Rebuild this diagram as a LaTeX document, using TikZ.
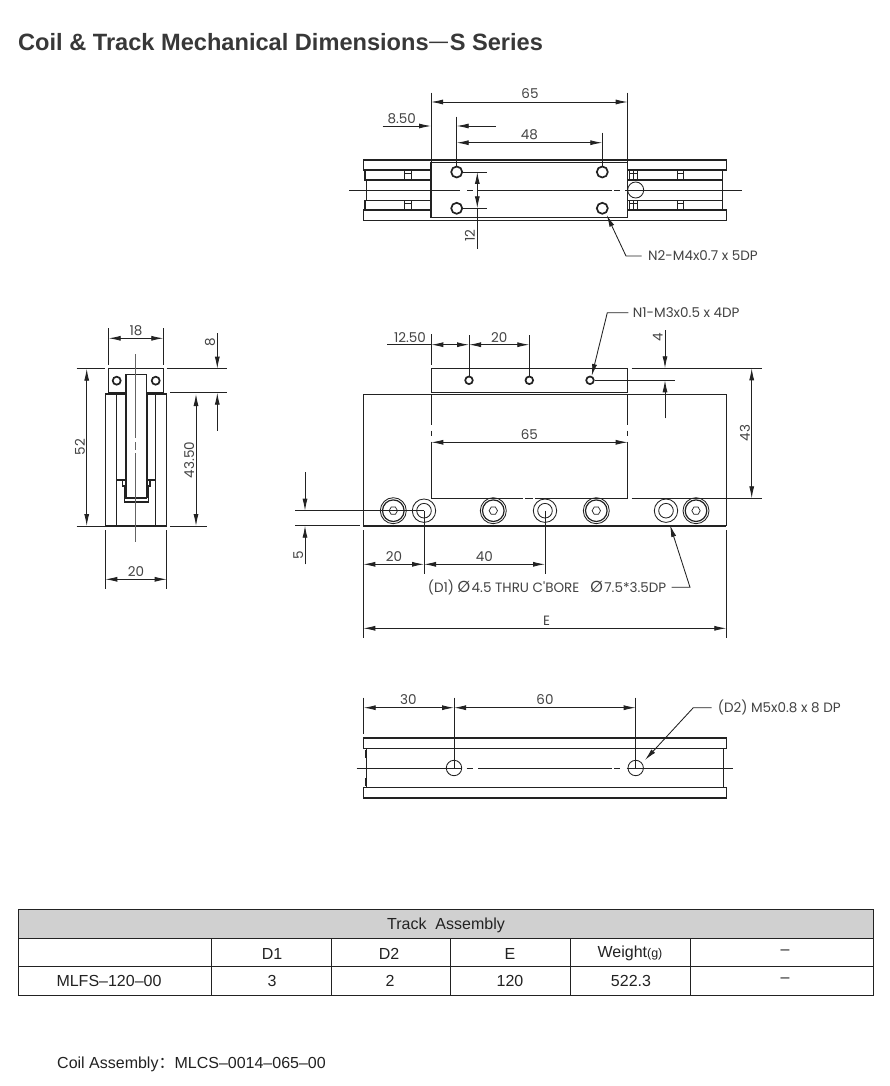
\documentclass[tikz,border=0pt]{standalone}
\usepackage{fontspec}
\usetikzlibrary{arrows.meta}
\setmainfont{Liberation Sans}
\newfontfamily\dimfont{Poppins}
\newfontfamily\cjk{Noto Sans CJK SC}
\newcommand{\bigphi}{{\fontsize{16}{16}\selectfont Ø}\hspace{1.5pt}}
\definecolor{inkdark}{HTML}{222222}
\definecolor{headgray}{HTML}{D0D0D0}
\tikzset{
  outline/.style={line width=1.2pt,draw=inkdark},
  heavy/.style={line width=1.7pt,draw=inkdark},
  thinline/.style={line width=.85pt,draw=inkdark},
  dimline/.style={line width=.85pt,draw=inkdark,>={Latex[length=12pt,width=5pt]}},
  dimlabel/.style={font=\dimfont\fontsize{13.5}{13.5}\selectfont,text=inkdark!85,inner sep=0pt},
  tablegrid/.style={line width=.9pt,draw=inkdark},
  celltext/.style={font=\fontsize{16}{16}\selectfont,text=inkdark,inner sep=0pt},
}
\begin{document}
\begin{tikzpicture}[x=1pt,y=-1pt]
  \useasboundingbox (0,0) rectangle (889,1086);
  \fill[white] (0,0) rectangle (889,1086);
  \node[anchor=west,inner sep=0pt,text=inkdark!90,font=\bfseries\fontsize{23.6}{23.6}\selectfont] (pageTitle) at (18,42)
    {Coil \& Track Mechanical Dimensions{\cjk\mdseries\raisebox{1pt}{—}}S Series};

  % top view
  \draw[outline] (363.7,160) rectangle (726.7,170);
  \draw[outline] (363.7,210) rectangle (726.7,220.7);
  \draw[outline] (365,170) rectangle (722.7,180);
  \draw[outline] (365,200.7) rectangle (722.7,210);
  \draw[thinline] (366.7,180) -- (366.7,200.7);
  \draw[thinline] (722.7,180) -- (722.7,200.7);
  \foreach \xs/\xe in {404/411,677/683,629/637} {
    \draw[thinline] (\xs,170) rectangle (\xe,180);
    \draw[thinline] (\xs,173) -- (\xe,173);
    \draw[thinline] (\xs,200.7) rectangle (\xe,210);
    \draw[thinline] (\xs,203.3) -- (\xe,203.3);
  }
  \draw[thinline] (633,170) -- (633,180) (633,200.7) -- (633,210);
  \draw[outline,fill=white] (431,162.7) rectangle (627.7,217.3);
  \draw[thinline] (349,190) -- (460,190) (467,190) -- (473,190) (477,190) -- (612,190) (614,190) -- (620,190) (625,190) -- (741.7,190);
  \draw[thinline] (635.7,190) circle (8);
  \foreach \xc in {456.7,602.3}
    \foreach \yc in {172,208.3}
      \draw[heavy,fill=white] (\xc,\yc) circle (5.5);
  \draw[thinline] (431,92.7) -- (431,162.7);
  \draw[thinline] (627.7,92.7) -- (627.7,162.7);
  \draw[dimline,<->] (431,102) -- (627.7,102);
  \node[dimlabel] (topWidth) at (530,94) {65};
  \draw[thinline] (456.7,116.7) -- (456.7,166);
  \draw[thinline] (602.3,132.7) -- (602.3,166);
  \draw[dimline,->] (382.7,126) -- (431,126);
  \draw[dimline,->] (495.7,126) -- (456.7,126);
  \node[dimlabel] (topOffset) at (401.7,118.5) {8.50};
  \draw[dimline,<->] (456.7,142.7) -- (602.3,142.7);
  \node[dimlabel] (topPitch) at (529.3,135) {48};
  \draw[thinline] (463,172) -- (487,172);
  \draw[thinline] (463,208.3) -- (487,208.3);
  \draw[dimline,<->] (477.3,172) -- (477.3,208.3);
  \draw[thinline] (477.3,208.3) -- (477.3,249.3);
  \node[dimlabel,rotate=90] (topGap) at (470,235.7) {12};
  \node[dimlabel,anchor=west] (noteNtwo) at (648,256) {N2-M4x0.7 x 5DP};
  \draw[dimline,<-] (606.7,215) -- (626,256) -- (641.7,256);

  % side view
  \draw[outline] (108.7,368.7) rectangle (163.3,392.7);
  \draw[outline] (105.3,394) rectangle (166.7,526);
  \draw[outline] (116.7,394) -- (116.7,526);
  \draw[outline] (155.7,394) -- (155.7,526);
  \draw[outline] (116.7,394) -- (125.7,394) (146.7,394) -- (155.7,394);
  \draw[outline] (116.7,480) -- (125.7,480) (122.3,480) -- (122.3,486) -- (124.3,486) -- (124.3,502) -- (148.3,502) -- (148.3,486) -- (150,486) -- (150,480) (146.7,480) -- (155.7,480);
  \draw[outline,fill=white] (126,374.7) rectangle (146.7,498);
  \draw[thinline] (125,392.7) -- (125,498) (147.5,392.7) -- (147.5,498);
  \draw[heavy] (116.7,380.7) circle (4);
  \draw[heavy] (155.7,380.7) circle (4);
  \draw[line width=.6pt,draw=inkdark!70] (135.7,354) -- (135.7,438) (135.7,442) -- (135.7,450) (135.7,453) -- (135.7,542.3);
  \draw[thinline] (108.7,328) -- (108.7,365);
  \draw[thinline] (163.3,328) -- (163.3,365);
  \draw[dimline,<->] (108.7,338.3) -- (163.3,338.3);
  \node[dimlabel] (sideBlock) at (136,330.7) {18};
  \draw[thinline] (166.7,368.7) -- (227,368.7);
  \draw[thinline] (170,392.7) -- (226.7,392.7);
  \draw[dimline,->] (217.3,333) -- (217.3,368.7);
  \draw[dimline,->] (217.3,430.7) -- (217.3,392.7);
  \node[dimlabel,rotate=90] (sideTop) at (210,342.3) {8};
  \draw[thinline] (170,526) -- (206.7,526);
  \draw[dimline,<->] (196,394) -- (196,526);
  \node[dimlabel,rotate=90] (sideTrack) at (189.3,460) {43.50};
  \draw[thinline] (76.7,368.7) -- (105,368.7);
  \draw[thinline] (76.7,526) -- (105,526);
  \draw[dimline,<->] (86.7,368.7) -- (86.7,526);
  \node[dimlabel,rotate=90] (sideHeight) at (80,447) {52};
  \draw[thinline] (105.3,530) -- (105.3,589.3);
  \draw[thinline] (166.7,530) -- (166.7,589.3);
  \draw[dimline,<->] (105.3,579.3) -- (166.7,579.3);
  \node[dimlabel] (sideWidth) at (136,571.7) {20};

  % front view
  \draw[outline] (431.3,368.3) rectangle (627.7,392.7);
  \draw[outline] (363.3,394.3) rectangle (726.3,525.7);
  \draw[heavy] (363.3,525.7) -- (726.3,525.7);
  \foreach \xh in {431.3,627.7}
    \draw[thinline] (\xh,394) -- (\xh,425) (\xh,430.7) -- (\xh,436) (\xh,441.7) -- (\xh,498.3);
  \draw[thinline] (431.3,498.3) -- (522.7,498.3) (525,498.3) -- (532.7,498.3) (535,498.3) -- (627.7,498.3);
  \draw[thinline] (631.7,498.3) -- (761.7,498.3);
  \draw[thinline] (631.7,368.3) -- (761.7,368.3);
  \draw[dimline,<->] (751.7,368.3) -- (751.7,498.3);
  \node[dimlabel,rotate=90] (frontDepth) at (745,433) {43};
  \draw[dimline,<->] (431.3,442.3) -- (627.7,442.3);
  \node[dimlabel] (frontBlock) at (529.3,434.3) {65};
  \foreach \xc in {469,529.3,590}
    \draw[heavy] (\xc,380.3) circle (3.8);
  \draw[thinline] (431.3,334) -- (431.3,365);
  \draw[thinline] (469,335) -- (469,376);
  \draw[thinline] (529.3,335) -- (529.3,376);
  \draw[thinline] (387.3,344.7) -- (431.3,344.7);
  \draw[dimline,<->] (431.3,344.7) -- (469,344.7);
  \draw[dimline,<->] (469,344.7) -- (529.3,344.7);
  \node[dimlabel] (frontOffset) at (410,337.3) {12.50};
  \node[dimlabel] (frontPitch) at (499.3,337.3) {20};
  \node[dimlabel,anchor=west] (noteNone) at (632.7,312.7) {N1-M3x0.5 x 4DP};
  \draw[dimline,<-] (591.7,376) -- (607.3,312.7) -- (628.3,312.7);
  \draw[thinline] (595,380.3) -- (675,380.3);
  \draw[dimline,->] (665,330) -- (665,368.3);
  \draw[dimline,->] (665,418.3) -- (665,380.3);
  \node[dimlabel,rotate=90] (frontInset) at (657.7,337.3) {4};
  \foreach \xc in {393.3,493.3,596.3,696} {
    \draw[thinline] (\xc,510.7) circle (13);
    \draw[outline] (\xc,510.7) circle (10.8);
    \draw[line width=.7pt,draw=inkdark] (\xc,510.7) +(0:4.2) -- +(60:4.2) -- +(120:4.2) -- +(180:4.2) -- +(240:4.2) -- +(300:4.2) -- cycle;
  }
  \foreach \xc in {424,545,666} {
    \draw[thinline] (\xc,510.7) circle (11.7);
    \draw[thinline] (\xc,510.7) circle (7.3);
  }
  \draw[thinline] (295,510.7) -- (424,510.7);
  \draw[thinline] (295,525.7) -- (360,525.7);
  \draw[dimline,->] (305,472.3) -- (305,510.7);
  \draw[dimline,->] (305,564.3) -- (305,525.7);
  \node[dimlabel,rotate=90] (frontEdge) at (298.3,555.7) {5};
  \draw[thinline] (424,510.7) -- (424,574);
  \draw[thinline] (545,510.7) -- (545,574);
  \draw[thinline] (363.3,530) -- (363.3,638);
  \draw[thinline] (726.3,530) -- (726.3,638);
  \draw[dimline,<->] (363.3,564.3) -- (424,564.3);
  \draw[dimline,<->] (424,564.3) -- (545,564.3);
  \node[dimlabel] (frontFirst) at (394,556.7) {20};
  \node[dimlabel] (frontSecond) at (484.3,556.7) {40};
  \draw[dimline,<->] (363.3,628.3) -- (726.3,628.3);
  \node[dimlabel] (frontLength) at (546.7,620.7) {E};
  \node[dimlabel,anchor=west] (noteDone) at (427.7,587.3) {(D1) \bigphi 4.5 THRU C'BORE\hspace{11pt}\bigphi 7.5*3.5DP};
  \draw[dimline,<-] (670,525) -- (690,587.3) -- (671.7,587.3);

  % bottom view
  \draw[outline] (363.7,737.7) rectangle (726.7,748.3);
  \draw[outline] (363.7,787.7) rectangle (726.7,798.3);
  \draw[heavy] (363.7,737.7) -- (726.7,737.7);
  \draw[heavy] (363.7,798.3) -- (726.7,798.3);
  \draw[thinline] (366,748.3) -- (366,787.7);
  \draw[thinline] (723.3,748.3) -- (723.3,787.7);
  \draw[heavy] (365.5,750) -- (365.5,758) (365.5,778) -- (365.5,786);
  \draw[thinline] (356.7,768) -- (462,768) (466.7,768) -- (472.7,768) (478.3,768) -- (611.7,768) (614,768) -- (620,768) (626.7,768) -- (733.3,768);
  \draw[thinline] (454,768) circle (7.7);
  \draw[thinline] (635.7,768) circle (7.7);
  \draw[thinline] (363.7,697.7) -- (363.7,734);
  \draw[thinline] (454,697.7) -- (454,768);
  \draw[thinline] (635.7,697.7) -- (635.7,768);
  \draw[dimline,<->] (363.7,707.7) -- (454,707.7);
  \draw[dimline,<->] (454,707.7) -- (635.7,707.7);
  \node[dimlabel] (bottomFirst) at (408.3,700) {30};
  \node[dimlabel] (bottomSecond) at (545,700) {60};
  \node[dimlabel,anchor=west] (noteDtwo) at (717.7,707.7) {(D2) M5x0.8 x 8 DP};
  \draw[dimline,<-] (645,760) -- (693.3,707.7) -- (711.7,707.7);

  % table
  \fill[headgray] (18,909.5) rectangle (873.5,938);
  \draw[tablegrid] (18,909.5) rectangle (873.5,995);
  \draw[tablegrid] (18,938) -- (873.5,938) (18,966.5) -- (873.5,966.5);
  \foreach \xc in {211.5,331.5,450.5,570.5,690}
    \draw[tablegrid] (\xc,938) -- (\xc,995);
  \node[celltext] (cellTrack) at (446,925) {Track\ \ Assembly};
  \node[celltext] (cellDone) at (272,953.5) {D1};
  \node[celltext] (cellDtwo) at (389,953.5) {D2};
  \node[celltext] (cellE) at (510,953.5) {E};
  \node[celltext] (cellWeight) at (630,953.5) {Weight{\fontsize{12.5}{12.5}\selectfont(g)}};
  \node[celltext] (cellBlankA) at (785,952.5) {–};
  \node[celltext] (cellModel) at (109,981) {MLFS–120–00};
  \node[celltext] (cellThree) at (272,981) {3};
  \node[celltext] (cellTwo) at (390,981) {2};
  \node[celltext] (cellLength) at (510,981) {120};
  \node[celltext] (cellMass) at (631,981) {522.3};
  \node[celltext] (cellBlankB) at (785,980) {–};
  \node[celltext,anchor=base west] (coilNote) at (57,1068.5) {Coil Assembly{\cjk：}MLCS–0014–065–00};
\end{tikzpicture}
\end{document}
